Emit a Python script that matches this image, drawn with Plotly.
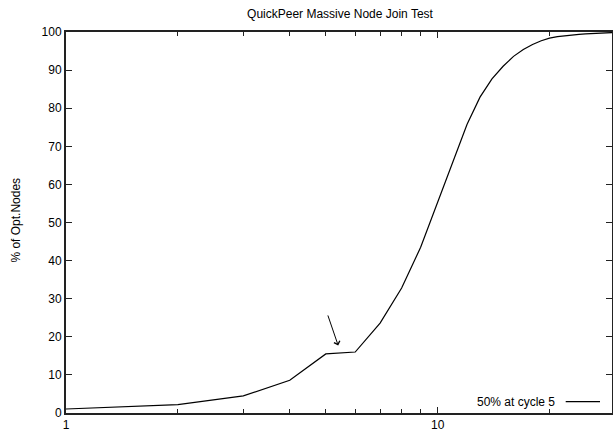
import math
import plotly.graph_objects as go

# ---- data ----
cycles = list(range(1, 31))
pct_opt_nodes = [1.05, 2.2, 4.5, 8.6, 15.5, 16.0, 23.6, 32.8, 43.5, 55.5,
                 66.0, 75.8, 82.9, 87.7, 91.0, 93.6, 95.4, 96.7, 97.7, 98.4,
                 98.8, 99.05, 99.25, 99.4, 99.5, 99.6, 99.7, 99.8, 99.85, 99.9]
x_tick_vals = [1, 10]
x_tick_text = ["1", "10"]
x_minor_vals = [2, 3, 4, 5, 6, 7, 8, 9, 20]
y_tick_vals = list(range(0, 101, 10))
arrow_tail = (5.05, 26.0)
arrow_head = (5.40, 17.7)
legend_label = "50% at cycle 5"
title_text = "QuickPeer Massive Node Join Test"
y_label = "% of Opt.Nodes"

FONT = "Liberation Sans, Arial, Helvetica, sans-serif"
W, H = 613, 432
ML, MR, MT, MB = 66, 1, 32, 19
PW = W - ML - MR
PH = H - MT - MB

fig = go.Figure()
fig.add_trace(go.Scatter(x=cycles, y=pct_opt_nodes, mode="lines",
                         line=dict(color="#000000", width=1.2),
                         name=legend_label, showlegend=False))

axis_common = dict(showline=True, linewidth=2, linecolor="#222222",
                   mirror="allticks", ticks="inside", ticklen=6,
                   tickwidth=1, tickcolor="#222222", showgrid=False,
                   zeroline=False, automargin=False,
                   tickfont=dict(family=FONT, size=12, color="#000000"))

fig.update_xaxes(type="log", range=[0, math.log10(29.45)],
                 tickmode="array", tickvals=x_tick_vals, ticktext=x_tick_text,
                 minor=dict(tickmode="array", tickvals=x_minor_vals,
                            ticks="inside", ticklen=4, tickcolor="#222222",
                            showgrid=False),
                 **axis_common)
fig.update_yaxes(range=[0, 100], tickmode="array", tickvals=y_tick_vals,
                 **axis_common)

# arrow annotation
fig.add_annotation(x=math.log10(arrow_head[0]), y=arrow_head[1],
                   ax=math.log10(arrow_tail[0]), ay=arrow_tail[1],
                   xref="x", yref="y", axref="x", ayref="y",
                   text="", showarrow=True, arrowhead=4, arrowsize=1.2,
                   arrowwidth=1, arrowcolor="#000000")

# y-axis label
fig.add_annotation(text=y_label, textangle=-90, showarrow=False,
                   xref="paper", yref="paper",
                   x=(15.6 - ML) / PW, y=(H - MB - 220) / PH,
                   xanchor="center", yanchor="middle",
                   font=dict(family=FONT, size=12, color="#000000"))

# legend (gnuplot style: text then sample)
leg_y = (H - MB - 401.7) / PH
fig.add_annotation(text=legend_label, showarrow=False, xref="paper", yref="paper",
                   x=(557 - ML) / PW, y=leg_y, xanchor="right", yanchor="middle",
                   font=dict(family=FONT, size=12, color="#000000"))
fig.add_shape(type="line", xref="paper", yref="paper",
              x0=(565.7 - ML) / PW, x1=(600 - ML) / PW, y0=leg_y, y1=leg_y,
              line=dict(color="#000000", width=1.2))

fig.update_layout(
    width=W, height=H,
    margin=dict(l=ML, r=MR, t=MT, b=MB, pad=0),
    paper_bgcolor="white", plot_bgcolor="white",
    showlegend=False,
    title=dict(text=title_text, x=(340 - ML) / PW, xref="paper", xanchor="center",
               y=1 - 14 / H, yref="container", yanchor="middle",
               font=dict(family=FONT, size=12, color="#000000")),
)

fig.write_html("out.html")
